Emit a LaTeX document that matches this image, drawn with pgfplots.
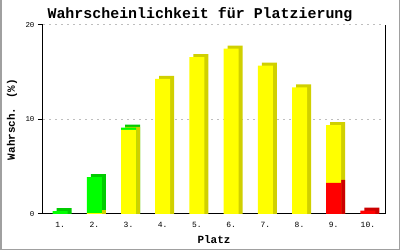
\documentclass[border=0pt]{standalone}
\usepackage{fontspec}
\setmainfont{Liberation Mono}
\usepackage{pgfplots}
\pgfplotsset{compat=1.18}
\definecolor{yfront}{RGB}{255,255,0}
\definecolor{yside}{RGB}{208,208,0}
\definecolor{gfront}{RGB}{0,255,0}
\definecolor{gside}{RGB}{0,204,0}
\definecolor{rfront}{RGB}{255,0,0}
\definecolor{rside}{RGB}{204,0,0}
\definecolor{gridc}{RGB}{190,190,190}
\definecolor{framec}{RGB}{160,160,160}
\begin{document}
\begin{tikzpicture}
\useasboundingbox (0,0) rectangle (400bp,250bp);
\draw[framec, line width=1.5bp] (0.75bp,250bp) -- (0.75bp,0.75bp) -- (399.25bp,0.75bp) -- (399.25bp,250bp);
\node[anchor=base, font=\bfseries\fontsize{15}{16}\selectfont, inner sep=0pt] at (200bp,231.7bp) {Wahrscheinlichkeit für Platzierung};
\begin{axis}[
  at={(43bp,36bp)}, anchor=south west,
  scale only axis, width=342bp, height=189bp,
  xmin=0.5, xmax=10.5, ymin=0, ymax=20,
  ybar, bar width=15bp,
  axis lines=left, axis line style={-, line width=1bp, black},
  xtick={1,...,10},
  xticklabels={1.,2.,3.,4.,5.,6.,7.,8.,9.,10.},
  ytick={0,10,20},
  x tick style={draw=none},
  y tick style={line width=1bp, black},
  tick align=outside, major tick length=5bp,
  /pgf/number format/assume math mode=true,
  xticklabel style={font=\fontsize{8}{9}\selectfont},
  yticklabel style={font=\fontsize{7.5}{8}\selectfont},
  ymajorgrids,
  major grid style={gridc, dash pattern=on 2bp off 4bp, line width=1bp},
  xlabel={Platz}, ylabel={Wahrsch. (\%)},
  label style={font=\bfseries\fontsize{11}{12}\selectfont},
  xlabel style={at={(axis description cs:0.5,-0.1376)}, anchor=center},
  ylabel style={at={(axis description cs:-0.0906,0.5)}, anchor=center},
  clip=false,
]
% side/depth faces (shifted right, raised)
\addplot[draw=none, fill=gside, bar shift=4bp] coordinates {(1,0.62) (2,4.22) (3,9.47)};
\addplot[draw=none, fill=yside, bar shift=4bp] coordinates {(2,0.42) (3,9.22) (4,14.62) (5,16.92) (6,17.82) (7,16.02) (8,13.72) (9,9.72)};
\addplot[draw=none, fill=rside, bar shift=4bp] coordinates {(9,3.62) (10,0.67)};
% front faces (cumulative tops)
\addplot[draw=none, fill=gfront, bar shift=0bp] coordinates {(1,0.3) (2,3.9) (3,9.15)};
\addplot[draw=none, fill=yfront, bar shift=0bp] coordinates {(2,0.1) (3,8.9) (4,14.3) (5,16.6) (6,17.5) (7,15.7) (8,13.4) (9,9.4)};
\addplot[draw=none, fill=rfront, bar shift=0bp] coordinates {(9,3.3) (10,0.35)};
\draw[line width=1bp, black] (rel axis cs:1,0) -- (rel axis cs:1,1);
\end{axis}
\end{tikzpicture}
\end{document}
